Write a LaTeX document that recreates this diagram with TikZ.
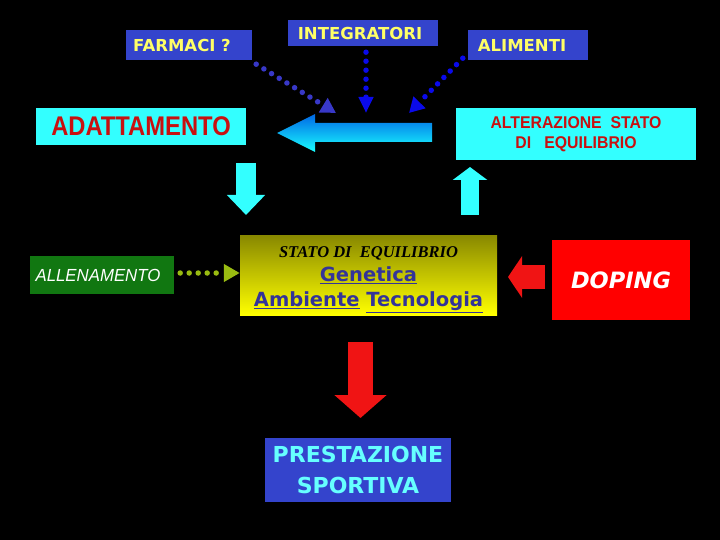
\documentclass[tikz,border=0pt]{standalone}
\usepackage{fontspec}
\setmainfont{Liberation Serif}
\setsansfont{Liberation Sans}
\newfontfamily\verd{DejaVu Sans}
\usetikzlibrary{arrows.meta,calc}
\definecolor{boxblue}{RGB}{52,68,204}
\definecolor{txtyellow}{RGB}{255,255,102}
\definecolor{boxcyan}{RGB}{51,255,255}
\definecolor{txtred}{RGB}{200,16,16}
\definecolor{allgreen}{RGB}{17,119,17}
\definecolor{dotgreen}{RGB}{153,187,17}
\definecolor{dotblue}{RGB}{56,56,200}
\definecolor{puredotblue}{RGB}{10,10,235}
\definecolor{olivetop}{RGB}{136,136,0}
\definecolor{genblue}{RGB}{51,51,153}
\definecolor{dopred}{RGB}{255,0,0}
\definecolor{arrred}{RGB}{240,20,20}
\definecolor{prestext}{RGB}{102,255,255}
\newcommand{\fs}[1]{\fontsize{#1}{#1}\selectfont}
\newcommand{\narrow}[2][0.85]{\scalebox{#1}[1]{#2}}

\begin{document}
\begin{tikzpicture}[x=1pt,y=-1pt,
    bluebox/.style={fill=boxblue, text=txtyellow, inner sep=0pt,
        font=\verd\bfseries\fs{16.5}},
    cyanbox/.style={fill=boxcyan, text=txtred, inner sep=0pt, align=center},
    dotline/.style={line width=5.5pt, line cap=round, dash pattern=on 0pt off 9pt},
    blockarrow/.style={line cap=butt}]
    \fill[black] (0,0) rectangle (720,540);
    \useasboundingbox (0,0) rectangle (720,540);
    % top row
    \node[bluebox, minimum width=126pt, minimum height=30pt] (farmaci) at (189,45) {FARMACI ?\hspace*{14pt}};
    \node[bluebox, minimum width=150pt, minimum height=26pt] (integr) at (363,33) {INTEGRATORI\hspace*{6pt}};
    \node[bluebox, minimum width=120pt, minimum height=30pt] (aliment) at (528,45) {ALIMENTI\hspace*{12pt}};
    % second row
    \node[cyanbox, minimum width=210pt, minimum height=37pt, font=\sffamily\bfseries\fs{27}] (adatt) at (141,126.5) {\narrow[0.88]{ADATTAMENTO}};
    \node[cyanbox, minimum width=240pt, minimum height=52pt, font=\sffamily\bfseries\fontsize{17}{20}\selectfont] (alteraz) at (576,134) {\narrow[0.93]{ALTERAZIONE~~STATO}\\\narrow[0.93]{DI~~~EQUILIBRIO}};
    % middle row
    \node[fill=allgreen, text=white, minimum width=144pt, minimum height=38pt, inner sep=0pt,
        font=\sffamily\itshape\fs{17.5}] (allen) at (102,275) {\narrow[0.96]{ALLENAMENTO}\hspace*{8pt}};
    \node[top color=olivetop, bottom color=yellow, minimum width=257pt, minimum height=80pt,
        inner sep=0pt, align=center, text=genblue, font=\verd\bfseries\fontsize{19.5}{25}\selectfont] (stato) at (368.5,275)
        {\rule{0pt}{21pt}{\rmfamily\bfseries\itshape\color{black}\fs{16.5}STATO DI~~EQUILIBRIO}\\[-1pt]\underline{Genetica}\\\underline{Ambiente}~\underline{Tecnologia}};
    \node[fill=dopred, text=white, minimum width=138pt, minimum height=80pt, inner sep=0pt,
        font=\verd\bfseries\itshape\fs{22.5}] (doping) at (621,280) {DOPING};
    % bottom
    \node[fill=boxblue, text=prestext, minimum width=186pt, minimum height=64pt, inner sep=0pt,
        align=center, font=\verd\bfseries\fontsize{22}{31}\selectfont] (prest) at (358,470) {PRESTAZIONE\\SPORTIVA};

    % dotted arrows
    \coordinate (hubl) at (336,113);
    \coordinate (hubm) at (366,113);
    \coordinate (hubr) at (409,113);
    \draw[dotline, dotblue, -{Triangle[width=16pt,length=15pt]}] ($(farmaci.south east)+(4,4)$) -- (hubl);
    \draw[dotline, puredotblue, -{Triangle[width=14pt,length=16pt]}] ($(integr.south)+(3,6)$) -- (hubm);
    \draw[dotline, puredotblue, -{Triangle[width=16pt,length=15pt]}] ($(aliment.south west)+(-5,-2)$) -- (hubr);
    \draw[dotline, dotgreen, -{Triangle[width=17pt,length=16pt]}] ($(allen.east)+(6,-2)$) -- ($(stato.west)+(0,-2)$);

    % block arrows
    \shade[top color=blue!55!cyan!90!black, bottom color=cyan!90!white]
        (277,133) -- (315,114) -- (315,123) -- (432,123) -- (432,142) -- (315,142) -- (315,152) -- cycle;
    \coordinate (dtail) at (246,163);
    \coordinate (dhead) at (246,215);
    \draw[blockarrow, boxcyan, line width=20pt, -{Triangle[width=37pt,length=20pt]}] (dtail) -- (dhead);
    \coordinate (utail) at (470,215);
    \coordinate (uhead) at (470,167);
    \draw[blockarrow, boxcyan, line width=18pt, -{Triangle[width=34pt,length=13pt]}] (utail) -- (uhead);
    \coordinate (ltail) at (545,277);
    \coordinate (lhead) at (508,277);
    \draw[blockarrow, arrred, line width=24pt, -{Triangle[width=41pt,length=14pt]}] (ltail) -- (lhead);
    \coordinate (rtail) at (360.5,342);
    \coordinate (rhead) at (360.5,418);
    \draw[blockarrow, arrred, line width=25pt, -{Triangle[width=51pt,length=23pt]}] (rtail) -- (rhead);
\end{tikzpicture}
\end{document}
